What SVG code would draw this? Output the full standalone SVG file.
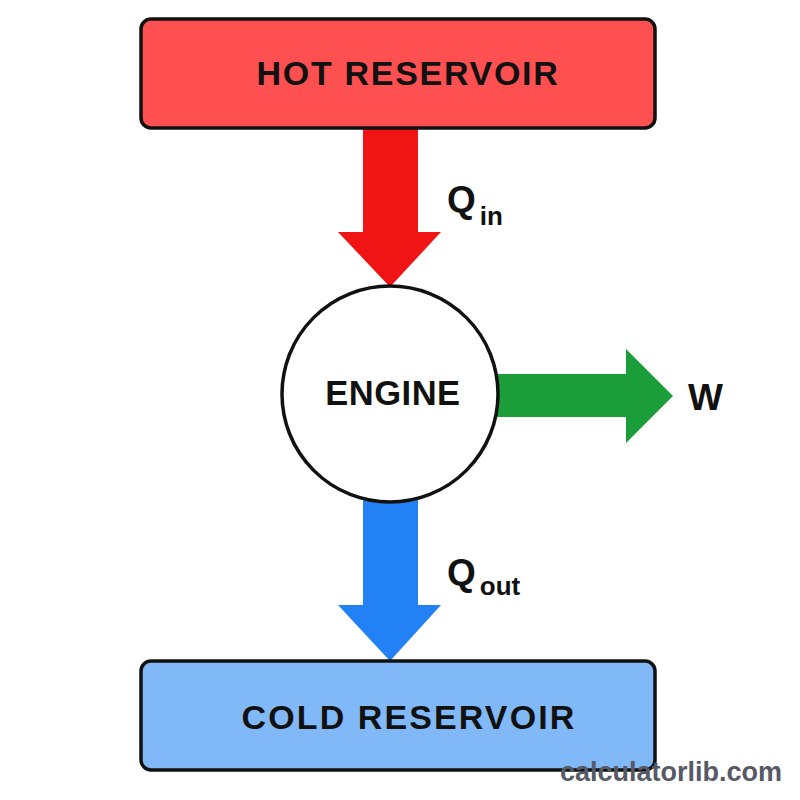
<svg xmlns="http://www.w3.org/2000/svg" width="800" height="800" viewBox="0 0 800 800">
<style>
.box{stroke:#111;stroke-width:3.5}
.lbl{font-family:"Liberation Sans",Arial,sans-serif;font-weight:bold;fill:#111;text-anchor:middle}
.sym{font-family:"Liberation Sans",Arial,sans-serif;font-weight:bold;fill:#111}
</style>
<rect width="800" height="800" fill="#ffffff"/>
<g id="connectors">
<polygon id="q-in" fill="#f01414" points="363,128 418,128 418,232 441,232 390,287 338,232 363,232"/>
<polygon id="q-out" fill="#2281f5" points="363,500 418,500 418,605 441,605 390,661 338,605 363,605"/>
<polygon id="work" fill="#1b9e3a" points="496,374 626,374 626,349 673,396 626,443 626,417 496,417"/>
</g>
<g id="hot-reservoir">
<rect class="box" x="141" y="19" width="514" height="109" rx="10" fill="#fe5050"/>
<text class="lbl" x="408" y="85" font-size="34" letter-spacing="1.7">HOT RESERVOIR</text>
</g>
<g id="engine">
<circle cx="390" cy="394" r="108" fill="#ffffff" stroke="#111" stroke-width="3.5"/>
<text class="lbl" x="393" y="405" font-size="34.5" letter-spacing="0.5">ENGINE</text>
</g>
<g id="cold-reservoir">
<rect class="box" x="141" y="661" width="514" height="109" rx="10" fill="#80b8f8"/>
<text class="lbl" x="409" y="729" font-size="34" letter-spacing="2.1">COLD RESERVOIR</text>
</g>
<g id="labels">
<text class="sym" x="447" y="212" font-size="37">Q<tspan font-size="26" dx="4" dy="13">in</tspan></text>
<text class="sym" x="447" y="585" font-size="37">Q<tspan font-size="26" dx="4" dy="10">out</tspan></text>
<text class="sym" x="688" y="410" font-size="37">W</text>
</g>
<text x="671" y="781" font-family="Liberation Sans,Arial,sans-serif" font-weight="bold" font-size="27" fill="#555a66" text-anchor="middle">calculatorlib.com</text>
</svg>
